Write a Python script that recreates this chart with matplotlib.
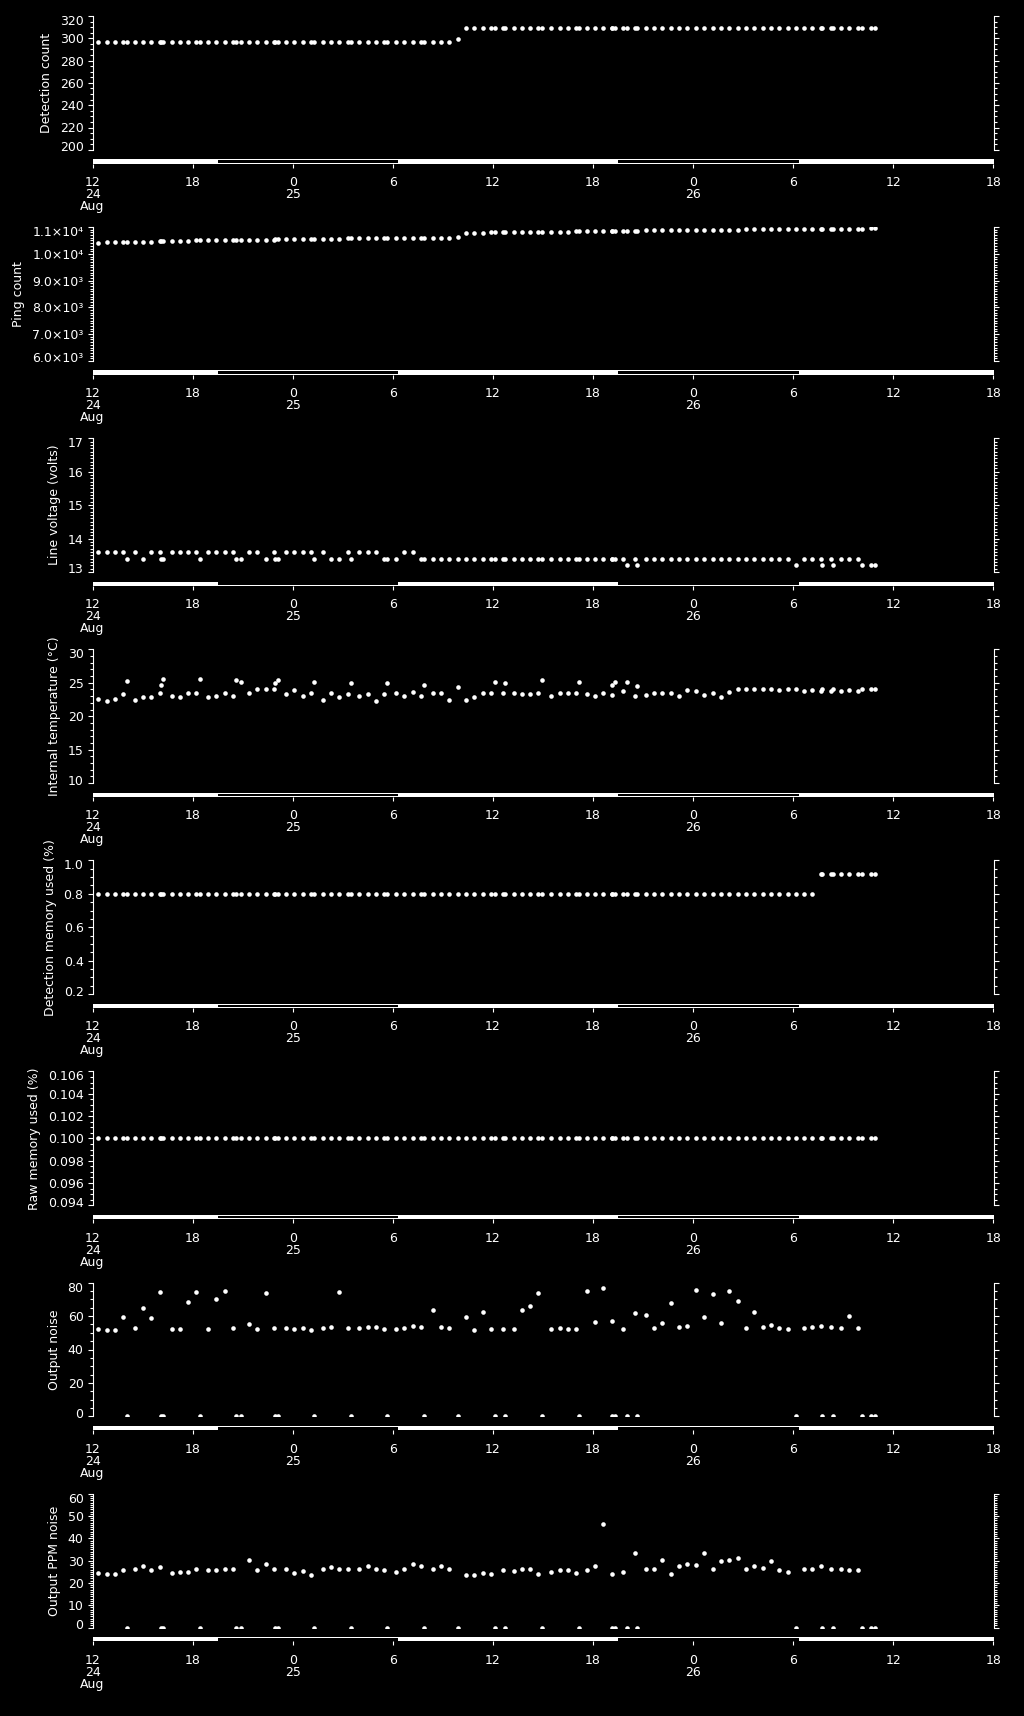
"""
Instrument housekeeping time series, 24-26 Aug: eight stacked panels
with white dots on black, and a day/night bar under each panel.
"""

import matplotlib.pyplot as plt
from matplotlib.patches import Rectangle
from matplotlib.ticker import FixedLocator, MultipleLocator
from matplotlib.transforms import ScaledTranslation

# sample times, hours after 24 Aug 12:00
t_main = [0.32, 0.86, 1.36, 1.84, 2.53, 3.03, 3.53, 4.03, 4.75, 5.25,
          5.75, 6.23, 6.93, 7.43, 7.92, 8.42, 9.36, 9.86, 10.38, 10.88,
          11.58, 12.10, 12.59, 13.09, 13.79, 14.29, 14.79, 15.29, 15.99, 16.49,
          16.99, 17.49, 18.18, 18.68, 19.18, 19.68, 20.38, 20.88, 21.38, 22.40,
          22.89, 23.39, 23.91, 24.61, 25.24, 25.74, 26.22, 26.72, 27.50, 28.00,
          28.50, 29.00, 29.62, 30.12, 30.62, 31.12, 31.82, 32.54, 33.16, 33.66,
          34.16, 34.66, 35.16, 35.66, 36.16, 36.66, 37.16, 37.66, 38.16, 38.66,
          39.16, 39.66, 40.16, 40.66, 41.16, 41.66, 42.64, 43.14, 43.64, 44.28,
          44.86, 45.36, 45.86]
# extra samples (the ones where the noise readings are zero)
t_extra = [2.04, 4.13, 4.25, 6.45, 8.60, 8.88, 10.96, 11.10, 13.29, 15.49,
           17.68, 19.88, 21.90, 24.11, 24.75, 26.94, 29.14, 31.16, 31.32, 32.04,
           32.64, 42.16, 43.74, 44.38, 46.14, 46.64, 46.88]

det_count_main = [297, 297, 297, 297, 297, 297, 297, 297, 297, 297,
                  297, 297, 297, 297, 297, 297, 297, 297, 297, 297,
                  297, 297, 297, 297, 297, 297, 297, 297, 297, 297,
                  297, 297, 297, 297, 297, 297, 297, 297, 297, 309,
                  309, 309, 309, 309, 309, 309, 309, 309, 309, 309,
                  309, 309, 309, 309, 309, 309, 309, 309, 309, 309,
                  309, 309, 309, 309, 309, 309, 309, 309, 309, 309,
                  309, 309, 309, 309, 309, 309, 309, 309, 309, 309,
                  309, 309, 309]
det_count_extra = [297, 297, 297, 297, 297, 297, 297, 297, 297, 297,
                   297, 297, 299, 309, 309, 309, 309, 309, 309, 309,
                   309, 309, 309, 309, 309, 309, 309]

ping_main = [10410, 10430, 10430, 10430, 10460, 10460, 10460, 10490, 10490, 10490,
             10490, 10500, 10520, 10520, 10520, 10520, 10530, 10530, 10530, 10530,
             10550, 10550, 10550, 10570, 10570, 10570, 10570, 10585, 10585, 10585,
             10585, 10600, 10600, 10600, 10600, 10610, 10610, 10610, 10610, 10790,
             10790, 10795, 10800, 10800, 10805, 10810, 10815, 10820, 10825, 10830,
             10835, 10840, 10845, 10850, 10855, 10860, 10865, 10870, 10875, 10880,
             10880, 10885, 10890, 10890, 10895, 10900, 10900, 10905, 10910, 10910,
             10915, 10920, 10920, 10925, 10925, 10930, 10930, 10935, 10935, 10940,
             10940, 10945, 10945]
ping_extra = [10440, 10490, 10490, 10510, 10525, 10525, 10540, 10540, 10570, 10585,
              10600, 10610, 10623, 10800, 10800, 10820, 10840, 10860, 10860, 10865,
              10870, 10930, 10935, 10940, 10945, 10950, 10950]

volt_main = [13.6, 13.6, 13.6, 13.6, 13.6, 13.4, 13.6, 13.6, 13.6, 13.6,
             13.6, 13.6, 13.6, 13.6, 13.6, 13.6, 13.6, 13.6, 13.4, 13.6,
             13.6, 13.6, 13.6, 13.6, 13.6, 13.4, 13.4, 13.6, 13.6, 13.6,
             13.6, 13.4, 13.4, 13.6, 13.6, 13.4, 13.4, 13.4, 13.4, 13.4,
             13.4, 13.4, 13.4, 13.4, 13.4, 13.4, 13.4, 13.4, 13.4, 13.4,
             13.4, 13.4, 13.4, 13.4, 13.4, 13.4, 13.4, 13.4, 13.4, 13.4,
             13.4, 13.4, 13.4, 13.4, 13.4, 13.4, 13.4, 13.4, 13.4, 13.4,
             13.4, 13.4, 13.4, 13.4, 13.4, 13.4, 13.4, 13.4, 13.4, 13.4,
             13.4, 13.4, 13.4]
volt_extra = [13.4, 13.4, 13.4, 13.4, 13.4, 13.4, 13.4, 13.4, 13.4, 13.4,
              13.4, 13.4, 13.4, 13.4, 13.4, 13.4, 13.4, 13.4, 13.4, 13.2,
              13.2, 13.2, 13.2, 13.2, 13.2, 13.2, 13.2]

temp_main = [22.5, 22.3, 22.5, 23.3, 22.4, 22.8, 22.8, 23.4, 23.0, 22.8,
             23.4, 23.5, 22.8, 23.0, 23.5, 23.0, 23.5, 24.0, 24.0, 24.0,
             23.3, 23.9, 23.0, 23.5, 22.4, 23.4, 22.8, 23.3, 23.0, 23.3,
             22.2, 23.3, 23.5, 23.0, 23.6, 23.0, 23.5, 23.5, 22.4, 22.4,
             22.8, 23.4, 23.5, 23.5, 23.5, 23.3, 23.3, 23.5, 23.0, 23.4,
             23.4, 23.5, 23.3, 23.0, 23.5, 23.1, 23.8, 23.0, 23.1, 23.4,
             23.4, 23.4, 23.0, 23.9, 23.8, 23.1, 23.5, 22.9, 23.6, 24.1,
             24.0, 24.0, 24.0, 24.0, 23.9, 24.0, 23.8, 23.9, 23.8, 23.8,
             23.7, 23.9, 23.8]
temp_extra = [25.2, 24.6, 25.5, 25.5, 25.4, 25.1, 25.0, 25.4, 25.1, 24.9,
              24.9, 24.6, 24.4, 25.1, 24.9, 25.4, 25.1, 24.7, 25.1, 25.1,
              24.5, 24.0, 24.1, 24.1, 24.0, 24.0, 24.0]

det_mem_main = [0.8, 0.8, 0.8, 0.8, 0.8, 0.8, 0.8, 0.8, 0.8, 0.8,
                0.8, 0.8, 0.8, 0.8, 0.8, 0.8, 0.8, 0.8, 0.8, 0.8,
                0.8, 0.8, 0.8, 0.8, 0.8, 0.8, 0.8, 0.8, 0.8, 0.8,
                0.8, 0.8, 0.8, 0.8, 0.8, 0.8, 0.8, 0.8, 0.8, 0.8,
                0.8, 0.8, 0.8, 0.8, 0.8, 0.8, 0.8, 0.8, 0.8, 0.8,
                0.8, 0.8, 0.8, 0.8, 0.8, 0.8, 0.8, 0.8, 0.8, 0.8,
                0.8, 0.8, 0.8, 0.8, 0.8, 0.8, 0.8, 0.8, 0.8, 0.8,
                0.8, 0.8, 0.8, 0.8, 0.8, 0.8, 0.8, 0.8, 0.92, 0.92,
                0.92, 0.92, 0.92]
det_mem_extra = [0.8, 0.8, 0.8, 0.8, 0.8, 0.8, 0.8, 0.8, 0.8, 0.8,
                 0.8, 0.8, 0.8, 0.8, 0.8, 0.8, 0.8, 0.8, 0.8, 0.8,
                 0.8, 0.8, 0.92, 0.92, 0.92, 0.92, 0.92]

raw_mem_main = [0.1] * len(t_main)     # flat at 0.100 the whole time
raw_mem_extra = [0.1] * len(t_extra)

noise_main = [52.2, 51.8, 51.8, 59.6, 52.6, 64.8, 58.6, 74.2, 52.2, 52.2,
              68.2, 74.6, 52.2, 70.2, 75.2, 52.6, 55.2, 52.0, 73.8, 52.6,
              52.6, 52.2, 52.6, 51.8, 52.6, 53.2, 74.2, 52.6, 52.6, 53.2,
              53.2, 52.2, 52.2, 52.6, 54.2, 53.2, 63.8, 53.2, 52.6, 59.2,
              51.8, 62.6, 52.2, 52.2, 52.2, 63.4, 65.8, 73.8, 52.2, 52.8,
              52.2, 52.2, 74.8, 56.2, 76.6, 56.8, 52.2, 61.8, 60.4, 52.8,
              55.8, 67.8, 53.2, 53.8, 75.4, 59.2, 73.4, 55.8, 74.8, 68.8,
              52.8, 62.4, 53.2, 54.8, 52.8, 52.2, 52.8, 53.2, 53.8, 53.2,
              52.8, 59.8, 52.8]
noise_extra = [0] * len(t_extra)

ppm_main = [24.4, 24.0, 24.0, 25.6, 26.1, 27.6, 25.6, 27.1, 24.4, 25.0,
            24.9, 26.1, 25.6, 25.9, 26.1, 26.1, 30.1, 25.6, 28.6, 26.1,
            26.1, 24.4, 25.5, 23.7, 26.1, 27.1, 26.1, 26.1, 26.1, 27.6,
            26.1, 25.6, 25.0, 26.1, 28.5, 27.6, 26.1, 27.6, 26.1, 23.7,
            23.5, 24.4, 24.0, 25.6, 25.2, 26.1, 26.1, 24.1, 25.0, 25.6,
            25.6, 24.6, 25.6, 27.6, 46.3, 24.1, 25.0, 33.6, 26.1, 26.1,
            30.2, 24.1, 27.6, 28.6, 28.2, 33.2, 26.1, 29.7, 30.2, 31.2,
            26.1, 27.6, 26.5, 29.7, 25.9, 25.0, 26.1, 26.1, 27.6, 26.1,
            26.1, 25.6, 25.6]
ppm_extra = [0] * len(t_extra)

# time axis
tick_hours = [0, 6, 12, 18, 24, 30, 36, 42, 48, 54]
tick_labels = ["12\n24\nAug", "18", "0\n25", "6", "12", "18", "0\n26", "6", "12", "18"]
night_start = [7.52, 31.50]
night_end = [18.30, 42.34]

panels = [
    ("Detection count", det_count_main, det_count_extra, (200, 320),
     [200, 220, 240, 260, 280, 300, 320], None, 5),
    ("Ping count", ping_main, ping_extra, (6000, 11000),
     [6000, 7000, 8000, 9000, 10000, 11000],
     ["6.0×10³", "7.0×10³", "8.0×10³", "9.0×10³", "1.0×10⁴", "1.1×10⁴"], 100),
    ("Line voltage (volts)", volt_main, volt_extra, (13, 17),
     [13, 14, 15, 16, 17], None, 0.1),
    ("Internal temperature (°C)", temp_main, temp_extra, (10, 30),
     [10, 15, 20, 25, 30], None, 1),
    ("Detection memory used (%)", det_mem_main, det_mem_extra, (0.2, 1.0),
     [0.2, 0.4, 0.6, 0.8, 1.0], ["0.2", "0.4", "0.6", "0.8", "1.0"], 0.05),
    ("Raw memory used (%)", raw_mem_main, raw_mem_extra, (0.094, 0.106),
     [0.094, 0.096, 0.098, 0.100, 0.102, 0.104, 0.106],
     ["0.094", "0.096", "0.098", "0.100", "0.102", "0.104", "0.106"], 0.0005),
    ("Output noise", noise_main, noise_extra, (0, 80),
     [0, 20, 40, 60, 80], None, 5),
    ("Output PPM noise", ppm_main, ppm_extra, (0, 60),
     [0, 10, 20, 30, 40, 50, 60], None, 1),
]

plt.rcParams["font.family"] = "DejaVu Sans"
plt.rcParams["font.size"] = 9

W, H = 1024, 1716
fig = plt.figure(figsize=(W / 100, H / 100), dpi=100, facecolor="black")

x0, x1 = 92.5, 993.5   # pixel edges of the plot area
for i, (label, vmain, vextra, ylim, yticks, ylabels, minor) in enumerate(panels):
    bar_top = 159.3 + 211.1 * i
    top, bot = bar_top - 143.3, bar_top - 9.5

    ax = fig.add_axes([x0 / W, 1 - bot / H, (x1 - x0) / W, (bot - top) / H])
    ax.set_facecolor("black")
    ax.plot(t_main, vmain, "o", color="white", ms=3.3, mew=0)
    ax.plot(t_extra, vextra, "o", color="white", ms=3.3, mew=0)
    ax.set_xlim(0, 54)
    ax.set_ylim(*ylim)
    ax.spines[["top", "bottom"]].set_visible(False)
    for s in ["left", "right"]:
        ax.spines[s].set_color("white")
        ax.spines[s].set_linewidth(0.8)
    ax.set_xticks([])
    ax.yaxis.set_major_locator(FixedLocator(yticks))
    ax.yaxis.set_minor_locator(MultipleLocator(minor))
    if ylabels is not None:
        ax.set_yticklabels(ylabels)
    ax.tick_params(axis="y", which="both", direction="out", colors="white",
                   right=True, labelright=False, width=0.8)
    ax.tick_params(axis="y", which="major", length=3.4, pad=3)
    ax.tick_params(axis="y", which="minor", length=1.9)
    # end labels are nudged a little inside the axis span, as in the original
    tl = ax.get_yticklabels()
    tl[0].set_transform(tl[0].get_transform()
                        + ScaledTranslation(0, 0.035, fig.dpi_scale_trans))
    tl[-1].set_transform(tl[-1].get_transform()
                         + ScaledTranslation(0, -0.04, fig.dpi_scale_trans))
    ax.set_ylabel(label, color="white", labelpad=5)

    # day/night bar with the time ticks
    bax = fig.add_axes([x0 / W, 1 - (bar_top + 4.4) / H, (x1 - x0) / W, 4.4 / H])
    bax.set_facecolor("white")
    bax.set_xlim(0, 54)
    bax.set_ylim(0, 1)
    for s0, s1 in zip(night_start, night_end):
        bax.add_patch(Rectangle((s0, 0.18), s1 - s0, 0.6, facecolor="black",
                                edgecolor="none"))
    for s in bax.spines.values():
        s.set_visible(False)
    bax.set_yticks([])
    bax.set_xticks(tick_hours)
    bax.set_xticklabels(tick_labels, linespacing=0.9)
    bax.tick_params(axis="x", direction="out", length=2.9, width=0.8,
                    color="white", labelcolor="white", pad=6)

fig.savefig("out.png", dpi=100, facecolor="black")
